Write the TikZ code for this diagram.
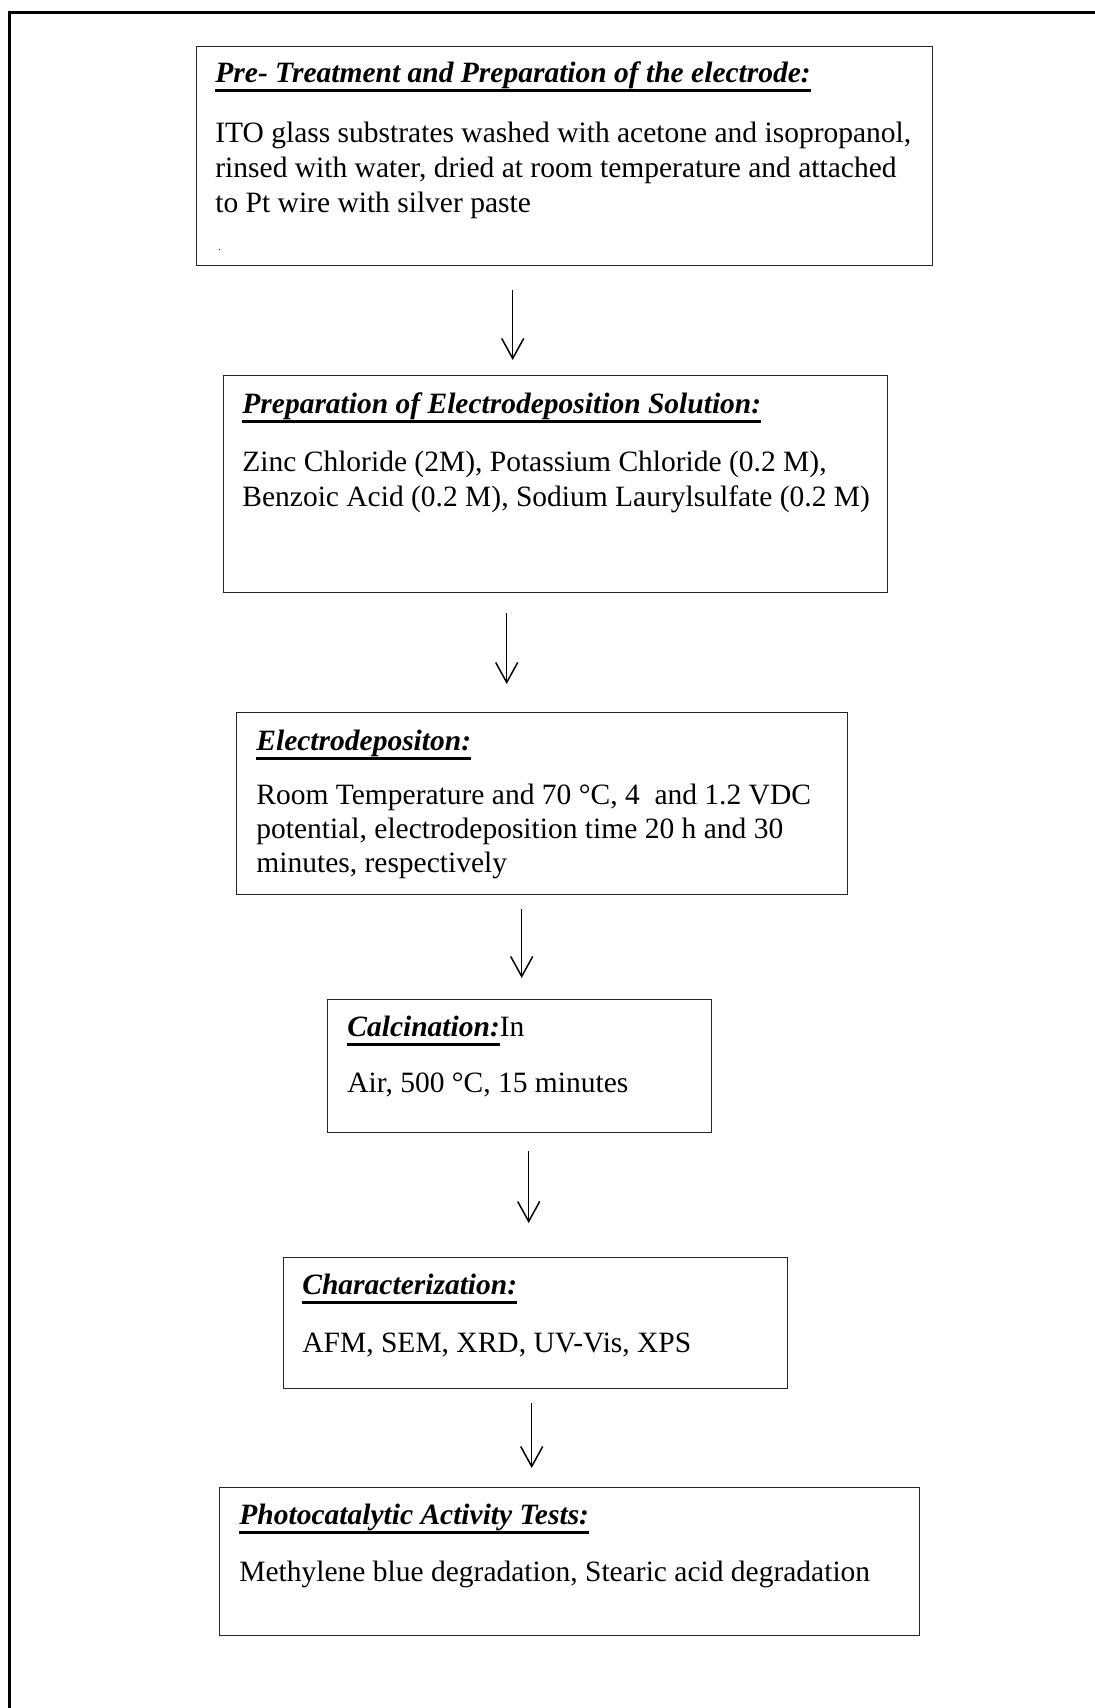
\documentclass[tikz,border=0pt]{standalone}
\usepackage{fontspec}
\setmainfont{Liberation Serif}
\usetikzlibrary{arrows.meta}
\newcommand\myul[1]{\setbox0\hbox{#1}\rlap{\rule[-5pt]{\wd0}{1.4pt}}\box0}
\newcommand\ttl[1]{\myul{\textbf{\textit{#1}}}}
\begin{document}
\begin{tikzpicture}[x=0.5pt,y=-0.5pt,
  box/.style={draw=black!85, line width=0.7pt, inner sep=0pt, anchor=north west},
  txt/.style={anchor=base west, inner sep=0pt, font=\fontsize{14.75pt}{17.5pt}\selectfont},
  arr/.style={line width=0.75pt, -{Straight Barb[length=10pt,width=11pt,line width=0.75pt]}},
  frame/.style={line width=1.5pt}]
\useasboundingbox (0,0) rectangle (1094,1708);
\fill[white] (0,0) rectangle (1094,1708);
% outer frame (left and top)
\draw[frame] (9,1710) -- (9,12) -- (1096,12);
% boxes
\node[box, minimum width=368pt, minimum height=109.5pt] (b1) at (196,46) {};
\node[box, minimum width=332pt, minimum height=108.5pt] (b2) at (223,375) {};
\node[box, minimum width=305.5pt, minimum height=91pt] (b3) at (236,712) {};
\node[box, minimum width=192pt, minimum height=66.5pt] (b4) at (327,999) {};
\node[box, minimum width=252pt, minimum height=65.5pt] (b5) at (283,1257) {};
\node[box, minimum width=350pt, minimum height=74pt] (b6) at (219,1487) {};
% texts box 1
\node[txt] (t1) at (215,82) {\ttl{Pre- Treatment and Preparation of the electrode:}};
\node[txt] (t1a) at (215,142) {ITO glass substrates washed with acetone and isopropanol,};
\node[txt] (t1b) at (215,177) {rinsed with water, dried at room temperature and attached};
\node[txt] (t1c) at (215,212) {to Pt wire with silver paste};
\node[anchor=base west, inner sep=0pt, font=\fontsize{5pt}{6pt}\selectfont] (t1d) at (218,250) {.};
% box 2
\node[txt] (t2) at (242,413) {\ttl{Preparation of Electrodeposition Solution:}};
\node[txt] (t2a) at (242,471) {Zinc Chloride (2M), Potassium Chloride (0.2 M),};
\node[txt] (t2b) at (242,506) {Benzoic Acid (0.2 M), Sodium Laurylsulfate (0.2 M)};
% box 3
\node[txt] (t3) at (256,750) {\ttl{Electrodepositon:}};
\node[txt] (t3a) at (256,804) {Room Temperature and 70 °C, 4\ \ and 1.2 VDC};
\node[txt] (t3b) at (256,838) {potential, electrodeposition time 20 h and 30};
\node[txt] (t3c) at (256,872) {minutes, respectively};
% box 4
\node[txt] (t4) at (347,1036) {\ttl{Calcination:}In};
\node[txt] (t4a) at (347,1092) {Air, 500 °C, 15 minutes};
% box 5
\node[txt] (t5) at (302,1294) {\ttl{Characterization:}};
\node[txt] (t5a) at (302,1352) {AFM, SEM, XRD, UV-Vis, XPS};
% box 6
\node[txt] (t6) at (239,1524) {\ttl{Photocatalytic Activity Tests:}};
\node[txt] (t6a) at (239,1581) {Methylene blue degradation, Stearic acid degradation};
% arrows
\draw[arr] ([xshift=-26pt,yshift=-12pt]b1.south) -- ([xshift=-21.5pt,yshift=7.5pt]b2.north);
\draw[arr] ([xshift=-24.5pt,yshift=-10pt]b2.south) -- ([xshift=-17.75pt,yshift=14pt]b3.north);
\draw[arr] ([xshift=-10.25pt,yshift=-7pt]b3.south) -- ([xshift=1pt,yshift=10.5pt]b4.north);
\draw[arr] ([xshift=4.5pt,yshift=-9pt]b4.south) -- ([xshift=-3.5pt,yshift=17pt]b5.north);
\draw[arr] ([xshift=-2pt,yshift=-7pt]b5.south) -- ([xshift=-19pt,yshift=9.5pt]b6.north);
\end{tikzpicture}
\end{document}
